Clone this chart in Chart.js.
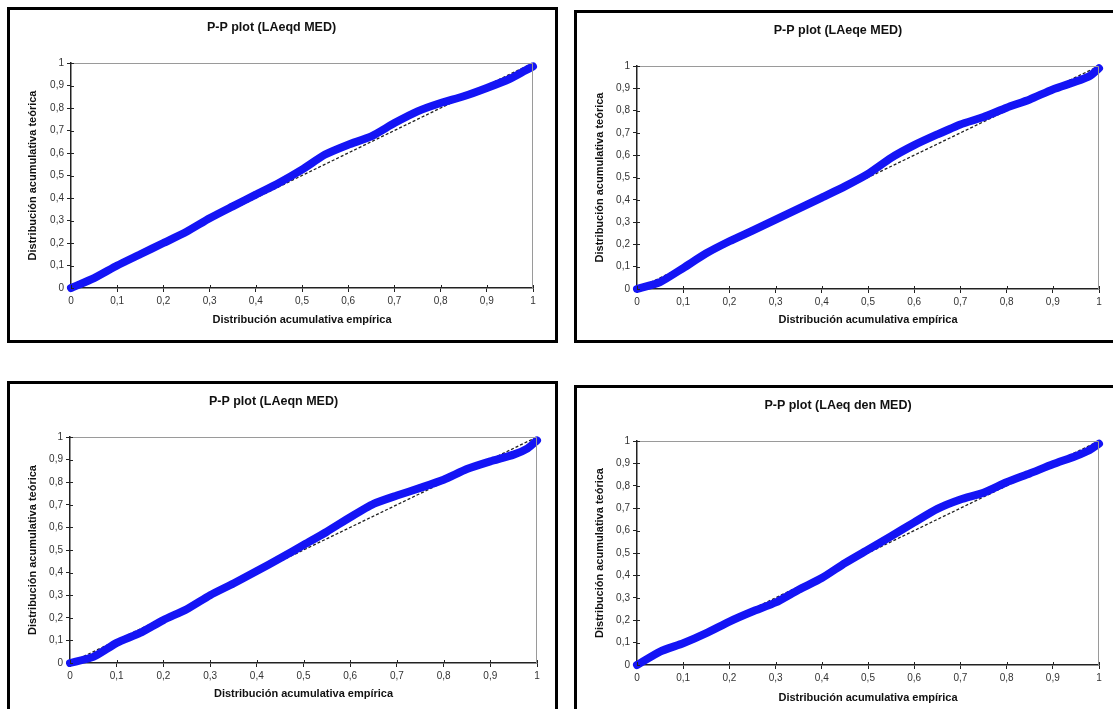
<!DOCTYPE html>
<html>
<head>
<meta charset="utf-8">
<script src="https://cdn.jsdelivr.net/npm/chart.js@4.4.1/dist/chart.umd.min.js"></script>
<style>
  html, body { margin: 0; padding: 0; background: #fff; }
  body { width: 1113px; height: 709px; overflow: hidden; position: relative; }
  .panel { position: absolute; border: 3px solid #000; box-sizing: border-box; background: #fff; }
  .panel canvas { display: block; }
</style>
</head>
<body>
<div class="panel" style="left:7px;top:7px;width:551px;height:336px"><canvas id="c1"></canvas></div>
<div class="panel" style="left:574px;top:10px;width:542px;height:333px"><canvas id="c2"></canvas></div>
<div class="panel" style="left:7px;top:381px;width:551px;height:336px"><canvas id="c3"></canvas></div>
<div class="panel" style="left:574px;top:385px;width:542px;height:336px"><canvas id="c4"></canvas></div>
<script>
// empirical cumulative probability (x) shared by the four plots
const empirical = [0, 0.05, 0.1, 0.15, 0.2, 0.25, 0.3, 0.35, 0.4, 0.45, 0.5, 0.55, 0.6, 0.65, 0.7, 0.75, 0.8, 0.85, 0.9, 0.95, 0.98, 1];

// theoretical cumulative probability (y)
const laeqd = [0, 0.044, 0.10, 0.15, 0.20, 0.25, 0.31, 0.363, 0.415, 0.467, 0.526, 0.593, 0.637, 0.674, 0.733, 0.785, 0.822, 0.852, 0.889, 0.93, 0.963, 0.985];
const laeqe = [0, 0.031, 0.094, 0.16, 0.214, 0.262, 0.311, 0.36, 0.41, 0.46, 0.516, 0.588, 0.645, 0.693, 0.738, 0.771, 0.813, 0.85, 0.895, 0.93, 0.955, 0.99];
const laeqn = [0, 0.027, 0.089, 0.133, 0.19, 0.238, 0.30, 0.352, 0.407, 0.463, 0.522, 0.581, 0.645, 0.704, 0.741, 0.775, 0.811, 0.858, 0.892, 0.922, 0.95, 0.985];
const laeqden = [0, 0.06, 0.097, 0.142, 0.194, 0.239, 0.279, 0.336, 0.388, 0.455, 0.515, 0.575, 0.637, 0.697, 0.739, 0.769, 0.816, 0.855, 0.896, 0.933, 0.96, 0.988];

// reference diagonal
const diagX = [0, 1];
const diagY = [0, 1];

const tickLabels = ['0', '0,1', '0,2', '0,3', '0,4', '0,5', '0,6', '0,7', '0,8', '0,9', '1'];

const titles = ['P-P plot (LAeqd MED)', 'P-P plot (LAeqe MED)', 'P-P plot (LAeqn MED)', 'P-P plot (LAeq den MED)'];
const xTitle = 'Distribución acumulativa empírica';
const yTitle = 'Distribución acumulativa teórica';

const FONT = "'Liberation Sans', Arial, sans-serif";

// gray frame on top/right of plot area + small inner ticks crossing the axes
const frame = {
    id: 'frame',
    afterDraw(chart) {
        const a = chart.chartArea;
        const c = chart.ctx;
        c.save();
        c.strokeStyle = '#9a9a9a';
        c.lineWidth = 1;
        c.beginPath();
        c.moveTo(a.left, a.top + 0.5);
        c.lineTo(a.right - 0.5, a.top + 0.5);
        c.lineTo(a.right - 0.5, a.bottom);
        c.stroke();
        c.strokeStyle = '#222';
        c.lineWidth = 1;
        c.beginPath();
        const xs = chart.scales.x, ys = chart.scales.y;
        xs.ticks.forEach((t, i) => {
            const px = Math.round(xs.getPixelForTick(i)) + 0.5;
            c.moveTo(px, a.bottom);
            c.lineTo(px, a.bottom - 3);
        });
        ys.ticks.forEach((t, i) => {
            const py = Math.round(ys.getPixelForTick(i)) + 0.5;
            c.moveTo(a.left, py);
            c.lineTo(a.left + 3, py);
        });
        c.stroke();
        c.restore();
    }
};

function makePlot(id, title, ys, layout) {
    const ctx = document.getElementById(id).getContext('2d');
    return new Chart(ctx, {
        type: 'scatter',
        data: {
            datasets: [{
                label: title,
                data: empirical.map((x, i) => ({x: x, y: ys[i]})),
                showLine: true,
                borderColor: 'rgb(20, 20, 245)',
                backgroundColor: 'rgb(20, 20, 245)',
                borderWidth: 8,
                borderCapStyle: 'round',
                borderJoinStyle: 'round',
                pointRadius: 0,
                tension: 0.2,
                clip: false
            }, {
                label: 'diagonal',
                data: diagX.map((x, i) => ({x: x, y: diagY[i]})),
                showLine: true,
                borderColor: '#222',
                borderWidth: 1.3,
                borderDash: [3, 2],
                pointRadius: 0,
                clip: false
            }]
        },
        options: {
            responsive: true,
            maintainAspectRatio: false,
            animation: false,
            layout: { padding: { left: 0, right: layout.right, top: 0, bottom: 0 } },
            plugins: {
                legend: { display: false },
                tooltip: { enabled: false },
                title: {
                    display: true,
                    text: title,
                    color: '#111',
                    font: { family: FONT, size: 12.5, weight: 'bold' },
                    padding: { top: 10.5, bottom: 27.5 }
                }
            },
            scales: {
                x: {
                    type: 'linear',
                    min: 0, max: 1,
                    ticks: {
                        stepSize: 0.1,
                        color: '#333',
                        font: { family: FONT, size: 10 },
                        padding: 3,
                        maxRotation: 0,
                        callback: (v, i) => tickLabels[i]
                    },
                    grid: { drawOnChartArea: false, tickLength: 4, color: '#222' },
                    border: { color: '#222', width: 1.5 },
                    title: {
                        display: true,
                        text: xTitle,
                        color: '#111',
                        font: { family: FONT, size: 11, weight: 'bold' },
                        padding: { top: 0, bottom: 13 }
                    },
                    afterFit: s => { s.height = layout.bottom; }
                },
                y: {
                    type: 'linear',
                    min: 0, max: 1,
                    ticks: {
                        stepSize: 0.1,
                        color: '#333',
                        font: { family: FONT, size: 10 },
                        padding: 3,
                        callback: (v, i) => tickLabels[i]
                    },
                    grid: { drawOnChartArea: false, tickLength: 4, color: '#222' },
                    border: { color: '#222', width: 1.5 },
                    title: {
                        display: true,
                        text: yTitle,
                        color: '#111',
                        font: { family: FONT, size: 11, weight: 'bold' },
                        padding: { top: 16, bottom: 0 }
                    },
                    afterFit: s => { s.width = layout.left; }
                }
            }
        },
        plugins: [frame]
    });
}

const plot1 = makePlot('c1', titles[0], laeqd, { left: 61, right: 22, bottom: 52 });
const plot2 = makePlot('c2', titles[1], laeqe, { left: 60, right: 14, bottom: 51 });
const plot3 = makePlot('c3', titles[2], laeqn, { left: 60, right: 18, bottom: 51 });
const plot4 = makePlot('c4', titles[3], laeqden, { left: 60, right: 14, bottom: 53 });
</script>
</body>
</html>
